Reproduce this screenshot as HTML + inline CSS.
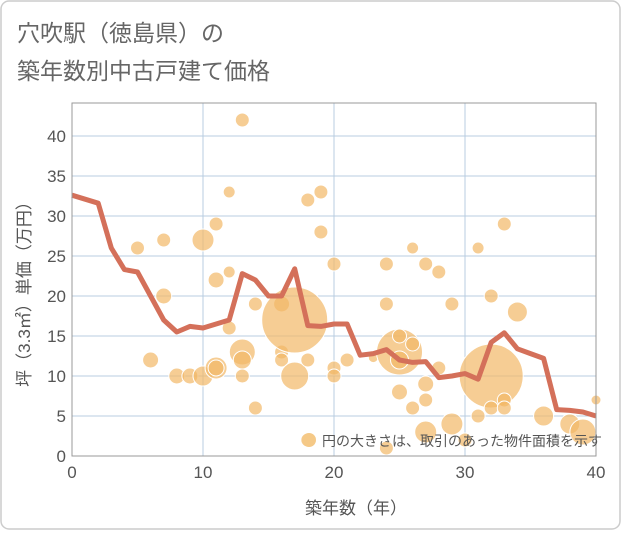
<!DOCTYPE html>
<html><head><meta charset="utf-8"><style>
body{margin:0;background:#fff}
svg text{font-family:"Liberation Sans","Noto Sans CJK JP",sans-serif}
</style></head><body>
<svg id="c" width="621" height="530" xmlns="http://www.w3.org/2000/svg">
<rect x="1" y="1" width="619" height="528" rx="8" fill="#fff" stroke="#ccc" stroke-width="1.5"/>
<text x="17" y="41" font-size="23" fill="#666">穴吹駅（徳島県）の</text>
<text x="17" y="79" font-size="23" fill="#666">築年数別中古戸建て価格</text>
<g id="grid"></g>
<g id="bubbles"></g>
<g id="line"></g>
<rect x="72" y="103" width="524" height="353" fill="none" stroke="#999" stroke-width="1"/>
<g id="ticks"></g>
<circle cx="309" cy="440" r="7" fill="#f5c987"/>
<text x="322" y="446" font-size="14" fill="#555">円の大きさは、取引のあった物件面積を示す</text>
<text x="356" y="514" font-size="17" fill="#555" text-anchor="middle">築年数（年）</text>
<text transform="translate(30,290) rotate(-90)" font-size="17" fill="#555" text-anchor="middle">坪（3.3㎡）単価（万円）</text>
</svg>
<script>
const xTicks=[0,10,20,30,40];
const yTicks=[0,5,10,15,20,25,30,35,40];
const lineYears=[0,2,3,4,5,6,7,8,9,10,11,12,13,14,15,16,17,18,19,20,21,22,23,24,25,26,27,28,29,30,31,32,33,34,35,36,37,38,39,40];
const lineValues=[32.6,31.6,26,23.3,23,20,17,15.5,16.2,16,16.5,17,22.8,22,20,20,23.4,16.3,16.2,16.5,16.5,12.6,12.8,13.3,12,11.7,11.8,9.8,10,10.3,9.6,14.2,15.4,13.4,12.8,12.2,5.8,5.7,5.5,5];
const bubbleX=[5,6,7,7,8,9,10,10,11,11,11,11,12,12,12,13,13,13,13,14,14,16,16,16,17,17,18,18,18,19,19,20,20,20,21,23,24,24,24,25,25,25,25,26,26,26,27,27,27,27,28,28,29,29,30,31,31,32,32,32,33,33,33,34,36,38,39,40];
const bubbleY=[26,12,27,20,10,10,27,10,29,22,11,11,33,23,16,42,13,12,10,19,6,19,13,12,17,10,32,12,2,33,28,24,11,10,12,12.3,24,19,1,13,15,12,8,26,14,6,24,9,7,3,23,11,19,4,2,26,5,20,10,6,29,7,6,18,5,4,3,7];
const bubbleSize=[7,8,7,8,8,8,11,10,7,8,11,8,6,6,7,7,13,9,7,7,7,8,7,7,33,14,7,7,7,7,7,7,7,7,7,5,7,7,7,23,7,9,8,6,7,7,7,8,7,11,7,7,7,11,7,6,7,7,32,7,7,7,7,10,10,10,13,5];
const NS="http://www.w3.org/2000/svg";
const L=72,R=596,T=136,B=456;
const sx=v=>L+(v-0)/40*(R-L);
const sy=v=>B-(v-0)/40*(B-T);
function mk(tag,attrs,parent){const e=document.createElementNS(NS,tag);for(const k in attrs)e.setAttribute(k,attrs[k]);document.getElementById(parent).appendChild(e);return e;}
yTicks.forEach(v=>{
 const g=mk('line',{x1:L,x2:R,y1:sy(v),y2:sy(v),stroke:'#b8cce0','stroke-width':1},'grid');
 
 
 const t=mk('text',{x:L-6,y:sy(v)+6,'font-size':17,fill:'#555','text-anchor':'end'},'ticks');
 t.textContent=v;
 
 
});
xTicks.forEach(v=>{
 const g=mk('line',{x1:sx(v),x2:sx(v),y1:103,y2:B,stroke:'#b8cce0','stroke-width':1},'grid');
 
 
 const t=mk('text',{x:sx(v),y:B+22,'font-size':17,fill:'#555','text-anchor':'middle'},'ticks');
 t.textContent=v;
 
 
});
bubbleX.forEach((x,i)=>{
 const c=mk('circle',{cx:sx(x),cy:sy(bubbleY[i]),r:bubbleSize[i],fill:'#f2b866','fill-opacity':0.7,stroke:'#fff','stroke-width':1},'bubbles');
 
 
});
const p=mk('polyline',{points:lineYears.map((x,i)=>sx(x)+','+sy(lineValues[i])).join(' '),fill:'none',stroke:'#d4705a','stroke-width':5,'stroke-linejoin':'round'},'line');


</script>
</body></html>
